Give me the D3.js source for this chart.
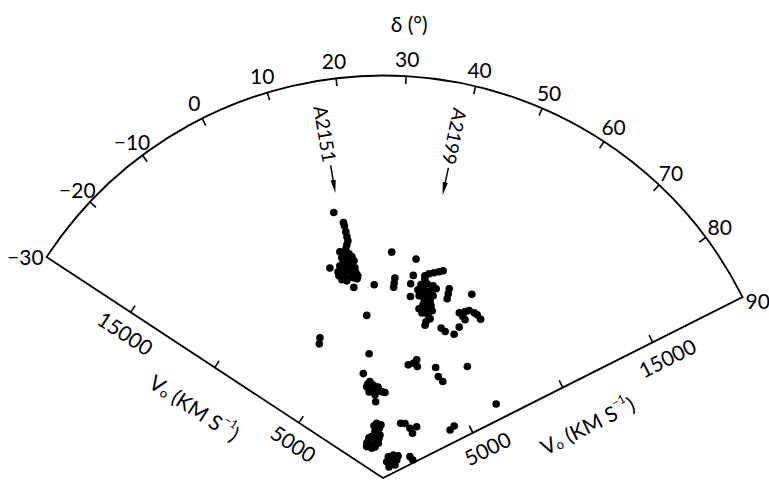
<!DOCTYPE html>
<html>
<head>
<meta charset="utf-8">
<script src="https://cdn.jsdelivr.net/npm/d3@7/dist/d3.min.js"></script>
<style>
  html, body { margin: 0; padding: 0; background: #fff; }
  svg { display: block; }
  text { font-family: Lato, "Liberation Sans", sans-serif; font-weight: 400; fill: #000; }
</style>
</head>
<body>
<svg id="chart" width="769" height="480"></svg>
<script>
// Wedge diagram: declination (degrees) vs. velocity (km/s)
const decTicks = [-20, -10, 0, 10, 20, 30, 40, 50, 60, 70, 80];
const decLabels = [-30, -20, -10, 0, 10, 20, 30, 40, 50, 60, 70, 80, 90];
const velTicks = [5000, 10000, 15000];
const velLabels = [5000, 15000];
const decRange = [-30, 90];
const velMax = 20000;

const clusterNames = ["A2151", "A2199"];
const clusterDec = [17.2, 38.6];

// galaxies: declination (deg) and velocity (km/s)
const galaxyDec = [
  16.2, 17.9, 18.0, 18.1, 18.2, 18.3, 17.9, 17.5, 16.9, 18.1, 17.0, 18.1, 16.3, 17.2, 18.5,
  15.2, 16.5, 17.8, 19.1, 15.2, 16.6, 17.9, 19.2, 14.4, 15.7, 17.1, 18.4, 19.3, 12.5, 15.9,
  18.0, 24.1, 21.0, 2.5, 1.3, 18.7, 15.8, 19.6,
  16.1, 19.1, 17.2, 18.2, 16.3, 15.0, 14.4,
  28.9, 35.3, 30.1, 30.0, 29.9, 35.2, 34.8, 35.3, 38.4, 39.4, 40.7, 41.9, 42.9, 38.6,
  37.8, 39.5, 41.3, 37.2, 39.0, 40.8, 42.4, 38.4, 40.3, 42.1, 39.7, 41.6, 39.7, 41.4,
  38.7, 41.1, 43.1, 42.1, 43.2, 42.1, 42.1, 37.9, 42.3, 40.0,
  46.0, 46.2, 46.4, 52.5, 53.0, 53.9, 55.6, 53.0, 54.1, 56.7, 58.3, 51.5,
  47.9, 49.7, 53.0, 53.5,
  20.3, 16.0, 19.0, 20.7, 16.6, 19.4, 22.6, 25.8, 28.0, 21.2, 21.2, 17.6, 23.6, 17.5,
  39.3, 41.5, 42.6, 43.8, 52.2, 55.3, 58.5, 63.8, 83.5,
  44.6, 48.7, 55.2, 60.0, 60.1, 81.1, 80.5,
  20.1, 22.4, 16.9, 22.7, 11.4, 17.3, 4.6, 10.6, -0.8, 5.9, 19.0, 24.5, 18.9, 7.4, 2.1,
  16.9, 12.2, 21.0,
  40.7, 50.8, 64.0, 52.2, 69.4, 39.5, 78.4, 85.5, 52.0, 61.0, 55.3
];
const galaxyVel = [
  13420, 12850, 12680, 12380, 12120, 11920, 11730, 11540, 11410, 11270, 11160, 11020, 10980, 10850, 10810,
  10760, 10670, 10620, 10540, 10510, 10460, 10370, 10290, 10290, 10190, 10090, 10050, 9980, 10760, 11440,
  9580, 9610, 8120, 7640, 7380, 11100, 10540, 10130,
  11130, 10890, 10590, 10160, 9960, 10060, 10490,
  11230, 11000, 9950, 9700, 9490, 10180, 9750, 9120, 10260, 10400, 10510, 10620, 10720, 10090,
  9790, 9900, 9870, 9510, 9570, 9590, 9770, 9300, 9320, 9390, 9090, 9110, 8830, 8840,
  8600, 8630, 8660, 8410, 8250, 8050, 7870, 9230, 8880, 8430,
  9960, 9710, 9460, 10140, 9220, 9360, 9380, 8950, 8860, 9360, 9260, 9040,
  7990, 7910, 7970, 8400,
  6210, 5280, 4830, 4650, 4610, 4410, 4390, 4290, 4250, 4150, 3810, 4740, 4530, 4330,
  5760, 5900, 6110, 5800, 6080, 5740, 5640, 6950, 6720,
  2860, 2920, 2810, 3050, 2660, 4100, 4380,
  2740, 2480, 2340, 2140, 2130, 1920, 1950, 1750, 1760, 1580, 1740, 2640, 2210, 2110, 1920,
  2630, 1590, 2000,
  1090, 1250, 1130, 810, 880, 830, 1710, 1730, 1050, 1330, 620
];

const svg = d3.select("#chart");
const cx = 383, cy = 478;

// angle measured from straight up, clockwise (degrees)
const angle = d3.scaleLinear().domain(decRange).range([-56.7, 63.3]);
const radius = d3.scaleLinear().domain([0, velMax]).range([0, 402.5]);
const R = radius(velMax);
const rad = d => angle(d) * Math.PI / 180;

function polar(dec, r) {
  const a = rad(dec);
  return [cx + r * Math.sin(a), cy - r * Math.cos(a)];
}

// outline of the wedge
const outline = d3.path();
outline.moveTo(cx, cy);
const pStart = polar(decRange[0], R);
outline.lineTo(pStart[0], pStart[1]);
outline.arc(cx, cy, R, rad(decRange[0]) - Math.PI / 2, rad(decRange[1]) - Math.PI / 2, false);
outline.closePath();
svg.append("path")
  .attr("d", outline.toString())
  .attr("fill", "none")
  .attr("stroke", "#000")
  .attr("stroke-width", 1.8)
  .attr("stroke-linejoin", "miter");

// declination ticks on the arc (pointing inward)
svg.append("g").selectAll("line").data(decTicks).join("line")
  .attr("x1", d => polar(d, R)[0]).attr("y1", d => polar(d, R)[1])
  .attr("x2", d => polar(d, R - 8)[0]).attr("y2", d => polar(d, R - 8)[1])
  .attr("stroke", "#000").attr("stroke-width", 1.6);

// declination labels
const fmt = d => d < 0 ? "\u2212" + Math.abs(d) : String(d);
svg.append("g").selectAll("text").data(decLabels).join("text")
  .attr("x", d => {
    if (d === decRange[0]) return polar(d, R)[0] - 3;
    if (d === decRange[1]) return polar(d, R)[0] + 3;
    return polar(d, 420)[0];
  })
  .attr("y", d => {
    if (d === decRange[0]) return polar(d, R)[1] - 1;
    if (d === decRange[1]) return polar(d, R)[1] + 3;
    return polar(d, 420)[1];
  })
  .attr("text-anchor", d => d === decRange[0] ? "end" : d === decRange[1] ? "start" : "middle")
  .attr("dominant-baseline", "central")
  .attr("font-size", 21)
  .text(fmt);

// axis title on top
const tPos = polar(30, 455);
svg.append("text")
  .attr("x", tPos[0]).attr("y", tPos[1])
  .attr("text-anchor", "middle").attr("dominant-baseline", "central")
  .attr("font-size", 21)
  .text("\u03b4 (\u00b0)");

// velocity ticks and labels on both straight edges
const edges = [
  { dec: decRange[0], side: -1 },
  { dec: decRange[1], side: 1 }
];
edges.forEach(e => {
  const a = rad(e.dec);
  const u = [Math.sin(a), -Math.cos(a)];                        // outward along edge
  const nIn = e.side < 0 ? [Math.cos(a), Math.sin(a)] : [-Math.cos(a), -Math.sin(a)];
  const rot = e.side < 0 ? angle(e.dec) + 90 : angle(e.dec) - 90;
  const shift = e.side < 0 ? -7 : 6;

  svg.append("g").selectAll("line").data(velTicks).join("line")
    .attr("x1", v => cx + u[0] * radius(v)).attr("y1", v => cy + u[1] * radius(v))
    .attr("x2", v => cx + u[0] * radius(v) + nIn[0] * 8).attr("y2", v => cy + u[1] * radius(v) + nIn[1] * 8)
    .attr("stroke", "#000").attr("stroke-width", 1.6);

  svg.append("g").selectAll("text").data(velLabels).join("text")
    .attr("transform", v => {
      const r = radius(v) + shift;
      const x = cx + u[0] * r - nIn[0] * 20, y = cy + u[1] * r - nIn[1] * 20;
      return `translate(${x},${y}) rotate(${rot})`;
    })
    .attr("text-anchor", "middle").attr("dominant-baseline", "central")
    .attr("font-size", 21)
    .text(v => v);

  const rt = radius(10000) + (e.side < 0 ? -5 : 5);
  const tx = cx + u[0] * rt - nIn[0] * 44, ty = cy + u[1] * rt - nIn[1] * 44;
  const title = svg.append("text")
    .attr("transform", `translate(${tx},${ty}) rotate(${rot})`)
    .attr("text-anchor", "middle").attr("dominant-baseline", "central")
    .attr("font-size", 21);
  title.append("tspan").text("V");
  title.append("tspan").attr("font-size", 13).attr("dy", 5).text("o");
  title.append("tspan").attr("dy", -5).text(" (KM S");
  title.append("tspan").attr("font-size", 12).attr("dy", -8).text("\u22121");
  title.append("tspan").attr("dy", 8).text(")");
});

// galaxies
const galaxies = galaxyDec.map((d, i) => ({ dec: d, vel: galaxyVel[i] }));
svg.append("g").selectAll("circle").data(galaxies).join("circle")
  .attr("cx", g => polar(g.dec, radius(g.vel))[0])
  .attr("cy", g => polar(g.dec, radius(g.vel))[1])
  .attr("r", 3.8)
  .attr("fill", "#000");

// cluster labels with radial arrows
clusterNames.forEach((name, i) => {
  const d = clusterDec[i];
  const p = polar(d, 349);
  svg.append("text")
    .attr("transform", `translate(${p[0]},${p[1]}) rotate(${angle(d) + 90})`)
    .attr("text-anchor", "middle").attr("dominant-baseline", "central")
    .attr("font-size", 19)
    .text(name);
  const p0 = polar(d, 317), p1 = polar(d, 300), tip = polar(d, 289);
  svg.append("line")
    .attr("x1", p0[0]).attr("y1", p0[1]).attr("x2", p1[0]).attr("y2", p1[1])
    .attr("stroke", "#000").attr("stroke-width", 1.5);
  const a = rad(d), w = 2.6;
  const nx = Math.cos(a), ny = Math.sin(a);
  const b = polar(d, 302);
  svg.append("path")
    .attr("d", `M${tip[0]},${tip[1]}L${b[0] + nx * w},${b[1] + ny * w}L${b[0] - nx * w},${b[1] - ny * w}Z`)
    .attr("fill", "#000");
});
</script>
</body>
</html>
